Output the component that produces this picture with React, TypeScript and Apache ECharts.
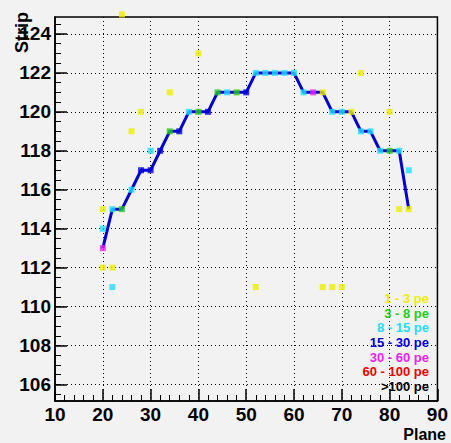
import React, { useEffect, useRef } from "react";
import * as echarts from "echarts";

// Track (fitted path) through the hits
const trackPlanes = [20, 22, 24, 26, 28, 30, 32, 34, 36, 38, 40, 42, 44, 46, 48, 50, 52, 54, 56, 58, 60, 62, 64, 66, 68, 70, 72, 74, 76, 78, 80, 82, 84];
const trackStrips = [113, 115, 115, 116, 117, 117, 118, 119, 119, 120, 120, 120, 121, 121, 121, 121, 122, 122, 122, 122, 122, 121, 121, 121, 120, 120, 120, 119, 119, 118, 118, 118, 115];

// Hits by charge class [plane, strip]
const hits1to3 = [[24, 125], [40, 123], [34, 121], [28, 120], [26, 119], [20, 115], [20, 112], [22, 112], [52, 111], [66, 111], [68, 111], [70, 111], [74, 122], [80, 120], [82, 115], [66, 121], [72, 120], [84, 115]];
const hits3to8 = [[24, 115], [34, 119], [40, 120], [44, 121], [48, 121], [80, 118]];
const hits8to15 = [[20, 114], [22, 115], [26, 116], [30, 118], [38, 120], [46, 121], [52, 122], [54, 122], [56, 122], [58, 122], [60, 122], [62, 121], [68, 120], [70, 120], [74, 119], [76, 119], [78, 118], [82, 118], [22, 111], [84, 117]];
const hits15to30 = [[28, 117], [30, 117], [32, 118], [36, 119], [42, 120], [50, 121]];
const hits30to60 = [[20, 113], [64, 121]];
const hits60to100: number[][] = [];
const hitsOver100: number[][] = [];

const classLabels = ["1 - 3 pe", "3 - 8 pe", "8 - 15 pe", "15 - 30 pe", "30 - 60 pe", "60 - 100 pe", ">100 pe"];
const classColors = ["#eeee00", "#22cc22", "#22ddff", "#0000dd", "#ee22ee", "#ee0000", "#000000"];
const classHits = [hits1to3, hits3to8, hits8to15, hits15to30, hits30to60, hits60to100, hitsOver100];

const yTickLabels = [106, 108, 110, 112, 114, 116, 118, 120, 122, 124];
const yMin = 105.15;
const yMax = 124.87;

export default function App() {
  const ref = useRef<HTMLDivElement>(null);
  useEffect(() => {
    if (!ref.current) return;
    const chart = echarts.init(ref.current, null, { renderer: "svg" });
    const yMinor: number[] = [];
    for (let v = 105.5; v <= 124.6; v += 0.5) yMinor.push(v);
    const font = "Liberation Sans, Arial, sans-serif";
    const dotted = { show: true, lineStyle: { color: "#000", width: 1, type: [1, 3] as any } };

    const series: any[] = [
      {
        type: "line",
        data: trackPlanes.map((p, i) => [p, trackStrips[i]]),
        showSymbol: false,
        symbol: "none",
        lineStyle: { color: "#0000cc", width: 3 },
        z: 2,
      },
    ];
    classHits.forEach((h, i) => {
      series.push({
        type: "scatter",
        name: classLabels[i],
        data: h,
        symbol: "rect",
        symbolSize: 6,
        clip: false,
        itemStyle: { color: classColors[i] },
        z: 3,
      });
    });

    const legendTexts = classLabels.map((t, i) => ({
      type: "text",
      right: 22,
      top: 292 + i * 14.67,
      style: {
        text: t,
        fill: classColors[i],
        font: `bold 13px ${font}`,
        textAlign: "right",
      },
      z: 10,
    }));

    chart.setOption({
      animation: false,
      backgroundColor: "#f2f2f2",
      grid: {
        left: 55,
        right: 10,
        top: 17,
        bottom: 42,
        show: true,
        borderColor: "#000",
        borderWidth: 1.5,
        backgroundColor: "transparent",
      },
      xAxis: {
        type: "value",
        min: 10,
        max: 90,
        interval: 10,
        axisLine: { show: true, lineStyle: { color: "#000", width: 1.5 } },
        axisTick: { show: true, inside: true, length: 12, lineStyle: { color: "#000", width: 1.5 } },
        minorTick: { show: true, splitNumber: 5, length: 6, lineStyle: { color: "#000", width: 1 } },
        splitLine: dotted,
        axisLabel: { color: "#000", fontSize: 19, fontWeight: "bold", fontFamily: font, margin: 4 },
      },
      yAxis: [
        {
          type: "value",
          min: yMin,
          max: yMax,
          axisLine: { show: true, lineStyle: { color: "#000", width: 1.5 } },
          axisTick: { show: true, inside: true, length: 12, customValues: yTickLabels, lineStyle: { color: "#000", width: 1.5 } },
          splitLine: dotted,
          axisLabel: { color: "#000", fontSize: 19, fontWeight: "bold", fontFamily: font, margin: 4, customValues: yTickLabels },
        },
        {
          type: "value",
          min: yMin,
          max: yMax,
          position: "left",
          offset: 0,
          axisLine: { show: false },
          axisTick: { show: true, inside: true, length: 6, customValues: yMinor, lineStyle: { color: "#000", width: 1 } },
          splitLine: { show: false },
          axisLabel: { show: false },
        },
      ],
      series,
      graphic: [
        {
          type: "text",
          x: 22,
          y: 12,
          rotation: Math.PI / 2,
          style: {
            text: "Strip",
            fill: "#000",
            font: `bold 18px ${font}`,
            textAlign: "right",
            textVerticalAlign: "middle",
          },
          z: 10,
        },
        {
          type: "text",
          x: 446,
          y: 434,
          style: {
            text: "Plane",
            fill: "#000",
            font: `bold 16px ${font}`,
            textAlign: "right",
            textVerticalAlign: "middle",
          },
          z: 10,
        },
        ...legendTexts,
      ],
    });
    return () => chart.dispose();
  }, []);
  return <div ref={ref} style={{ position: "fixed", left: 0, top: 0, width: 451, height: 443 }} />;
}
